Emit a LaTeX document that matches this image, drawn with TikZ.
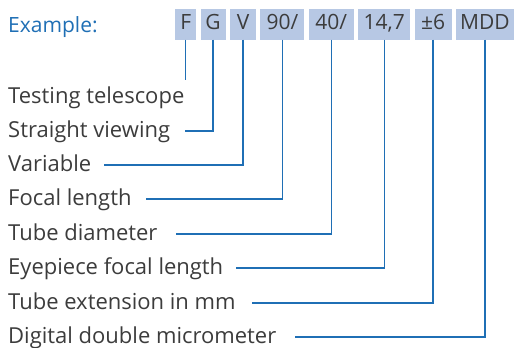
\documentclass[tikz,border=0pt]{standalone}
\usepackage{fontspec}
\setmainfont{Open Sans}
\usepackage{xcolor}
\usetikzlibrary{positioning}
\definecolor{codeblue}{RGB}{31,111,181}
\definecolor{boxfill}{RGB}{183,200,228}
\definecolor{textgray}{RGB}{60,60,60}
\tikzset{
  codebox/.style={fill=boxfill, text=textgray, inner xsep=2pt, inner ysep=0pt,
    minimum width=#1, minimum height=31pt, text height=15pt, text depth=3pt,
    font=\fontsize{21}{21}\selectfont},
  codebox/.default=21pt,
  desc/.style={text=textgray, inner sep=0pt, anchor=base west,
    font=\fontsize{22}{23}\selectfont},
  link/.style={draw=codeblue, line width=1.3pt}
}

\begin{document}
\begin{tikzpicture}[x=1pt,y=-1pt]
    \useasboundingbox (0,0) rectangle (515,348);
    \node[desc, text=codeblue, font=\fontsize{21}{21}\selectfont] (head) at (8,32) {Example:};
    % code boxes
    \node[codebox=21pt, anchor=west] (bF) at (175,24) {F};
    \node[codebox=25pt, right=4pt of bF] (bG) {G};
    \node[codebox=26pt, right=4pt of bG] (bV) {V};
    \node[codebox=44pt, right=4pt of bV] (bFoc) {90/};
    \node[codebox=45pt, right=4pt of bFoc] (bTube) {40/};
    \node[codebox=52pt, right=4pt of bTube] (bEye) {14,7};
    \node[codebox=37pt, right=4pt of bEye] (bExt) {±6};
    \node[codebox=58pt, right=4pt of bExt] (bMdd) {MDD};
    % descriptions
    \node[desc] (lTest) at (8,103) {Testing telescope};
    \node[desc] (lStraight) at (8,137) {Straight viewing};
    \node[desc] (lVar) at (8,171) {Variable};
    \node[desc] (lFoc) at (8,205) {Focal length};
    \node[desc] (lTube) at (8,240) {Tube diameter};
    \node[desc] (lEye) at (8,274) {Eyepiece focal length};
    \node[desc] (lExt) at (8,309) {Tube extension in mm};
    \node[desc] (lMdd) at (8,343) {Digital double micrometer};
    % connectors
    \coordinate (endF) at (bF.south |- 0,80);
    \draw[link] (bF.south) -- (endF);
    \draw[link] (bG.south) |- ([xshift=15pt,yshift=6pt]lStraight.base east);
    \draw[link] (bV.south) |- ([xshift=13pt,yshift=6pt]lVar.base east);
    \draw[link] (bFoc.south) |- ([xshift=14pt,yshift=6pt]lFoc.base east);
    \draw[link] (bTube.south) |- ([xshift=18pt,yshift=6pt]lTube.base east);
    \draw[link] (bEye.south) |- ([xshift=13pt,yshift=6pt]lEye.base east);
    \draw[link] (bExt.south) |- ([xshift=16pt,yshift=6pt]lExt.base east);
    \draw[link] (bMdd.south) |- ([xshift=18pt,yshift=6pt]lMdd.base east);
\end{tikzpicture}
\end{document}
